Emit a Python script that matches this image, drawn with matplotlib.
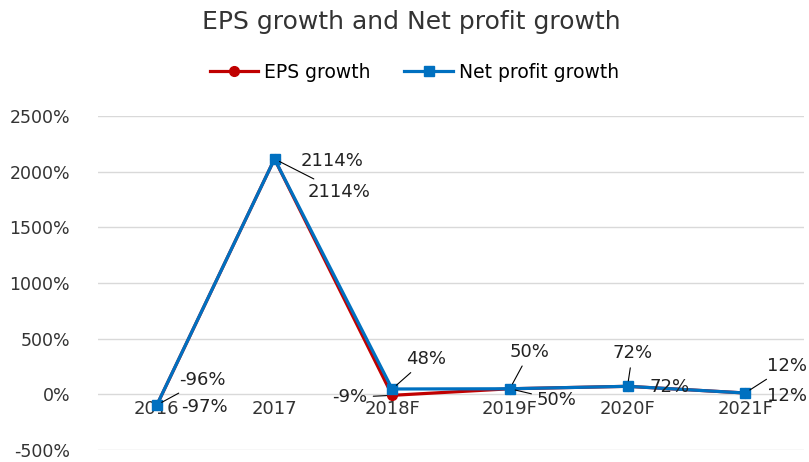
import matplotlib

matplotlib.use("Agg")
import matplotlib.pyplot as plt

# chart data
years = ["2016", "2017", "2018F", "2019F", "2020F", "2021F"]
eps_growth = [-97, 2114, -9, 50, 72, 12]
net_profit_growth = [-96, 2114, 48, 50, 72, 12]

# label placement (pixels, text centre relative to the point) and leader lines
eps_offsets = [(48, -2), (58, -2), (-42, -2), (47, -11), (42, -1), (42, -3)]
eps_leaders = [False, False, True, True, False, False]
net_offsets = [(46, 25), (65, -33), (34, 30), (20, 37), (5, 33), (42, 27)]
net_leaders = [True, True, True, True, True, True]

plt.rcParams["font.family"] = ["DejaVu Sans"]

fig = plt.figure(figsize=(8.09, 4.62), dpi=100)
ax = fig.add_axes([98 / 809, 1 - 450 / 462, 706 / 809, 334 / 462])

x = list(range(len(years)))
ax.plot(x, eps_growth, color="#C00000", lw=2.3, marker="o", ms=7, label="EPS growth", zorder=3)
ax.plot(x, net_profit_growth, color="#0070C0", lw=2.3, marker="s", ms=7, label="Net profit growth", zorder=4)

ax.spines["bottom"].set_position(("data", 0))
for s in ["top", "right", "left", "bottom"]:
    ax.spines[s].set_visible(False)
ax.set_xlim(-0.5, len(years) - 0.5)
ax.set_ylim(-500, 2500)
ax.set_yticks(range(-500, 2501, 500))
ax.set_yticklabels([f"{v}%" for v in range(-500, 2501, 500)], fontsize=12.5, color="#333333")
ax.set_xticks(x)
ax.set_xticklabels(years, fontsize=13, color="#333333")
ax.tick_params(axis="both", length=0)
ax.tick_params(axis="y", pad=20)
ax.tick_params(axis="x", pad=4)
ax.grid(axis="y", color="#D9D9D9", lw=1)
ax.set_axisbelow(True)

line_props = dict(arrowstyle="-", color="black", lw=0.8, shrinkA=2, shrinkB=4)
for values, offsets, leaders in [(eps_growth, eps_offsets, eps_leaders),
                                 (net_profit_growth, net_offsets, net_leaders)]:
    for i, (v, off, lead) in enumerate(zip(values, offsets, leaders)):
        ax.annotate(f"{v}%", (i, v), xytext=off, textcoords="offset pixels",
                    ha="center", va="center", fontsize=13, color="#222222",
                    arrowprops=line_props if lead else None, zorder=5)

fig.text(0.508, 0.952, "EPS growth and Net profit growth", ha="center", va="center",
         fontsize=18, color="#333333")
fig.legend(loc="center", bbox_to_anchor=(0.512, 0.844), ncol=2, frameon=False,
           fontsize=13.5, handlelength=2.6, columnspacing=1.8, handletextpad=0.3)

fig.savefig("out.png", dpi=100)
